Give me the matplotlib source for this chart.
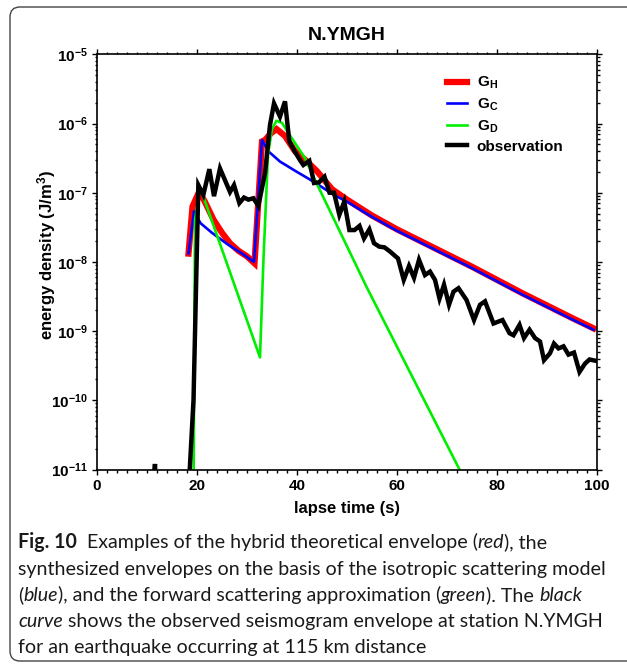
import matplotlib
matplotlib.use('Agg')
import matplotlib.pyplot as plt
import numpy as np
from matplotlib.ticker import FixedLocator, MultipleLocator, NullFormatter
from matplotlib.patches import FancyBboxPatch
from matplotlib.transforms import IdentityTransform
from matplotlib.font_manager import FontProperties

plt.rcParams['font.family'] = ['Liberation Sans', 'DejaVu Sans']
plt.rcParams['mathtext.fontset'] = 'custom'
plt.rcParams['mathtext.rm'] = 'Liberation Sans:bold'
plt.rcParams['mathtext.bf'] = 'Liberation Sans:bold'
plt.rcParams['mathtext.it'] = 'Liberation Sans:bold:italic'

# ---------------- data (log10 of energy density) -------------
title = 'N.YMGH'
xlabel = 'lapse time (s)'
ylabel = r'energy density (J/m$^{3}$)'
legend_labels = [r'$\mathbf{G_H}$', r'$\mathbf{G_C}$', r'$\mathbf{G_D}$', 'observation']
x_ticks = [0, 20, 40, 60, 80, 100]
y_exponents = [-11, -10, -9, -8, -7, -6, -5]

gh_t = [18.3, 19.1, 20.4, 21.5, 23.3, 25.0, 26.6, 28.3, 30.0, 31.5,
        33.0, 33.6, 34.8, 35.9, 37.6, 39.6, 42.0, 44.0, 47.0, 50.0,
        55.0, 60.0, 65.0, 70.0, 75.0, 80.0, 85.0, 90.0, 95.0, 99.3]
gh_log = [-7.88, -7.20, -6.99, -7.12, -7.39, -7.58, -7.73, -7.84, -7.92, -8.02,
          -6.26, -6.24, -6.14, -6.08, -6.18, -6.40, -6.55, -6.69, -6.95, -7.10,
          -7.33, -7.53, -7.71, -7.89, -8.07, -8.26, -8.45, -8.63, -8.81, -8.96]

gc_t = [18.3, 19.4, 20.7, 23.0, 26.0, 29.0, 31.4,
        33.0, 34.4, 36.6, 40.0, 42.6, 45.0, 47.3, 50.0,
        55.0, 60.0, 65.0, 70.0, 75.0, 80.0, 85.0, 90.0, 95.0, 99.3]
gc_log = [-7.88, -7.27, -7.44, -7.58, -7.74, -7.88, -8.00,
          -6.24, -6.41, -6.55, -6.70, -6.81, -6.92, -7.03, -7.13,
          -7.35, -7.55, -7.73, -7.91, -8.09, -8.28, -8.47, -8.65, -8.83, -8.98]

gd_t = [19.3, 19.6, 20.6, 32.6, 33.3, 34.2, 35.0, 35.9, 37.0, 38.3, 41.6, 43.9, 53.9, 72.5, 76.0]
gd_log = [-11.5, -7.40, -6.92, -9.38, -7.95, -6.45, -6.08, -5.96, -5.99, -6.14, -6.50, -6.86, -8.36, -11.0, -11.5]

obs_t = [0.0, 11.0, 11.6, 11.8, 17.5, 18.4, 19.3, 20.27, 21.27, 22.47, 23.4, 24.6, 25.6, 26.6,
         27.4, 28.47, 29.4, 30.27, 31.27, 32.27, 33.6, 34.6, 35.4, 36.6, 37.6, 38.47, 39.6,
         40.6, 41.27, 42.47, 43.4, 44.4, 45.5, 46.5, 47.4, 48.47, 49.45, 50.47, 51.5, 52.5,
         53.4, 54.47, 55.4, 56.47, 57.5, 58.6, 60.2, 61.35, 62.4, 63.4, 64.4, 65.6, 66.6,
         67.6, 68.5, 69.4, 70.4, 71.3, 72.3, 73.9, 75.4, 76.6, 77.6, 79.3, 81.1, 82.5, 83.3,
         84.5, 85.4, 86.5, 87.6, 88.6, 89.4, 90.6, 91.4, 92.3, 93.3, 94.3, 95.4, 96.5, 97.6,
         98.5, 99.8]
obs_log = [-12.0, -11.4, -10.92, -11.4, -12.0, -11.2, -10.0, -6.89, -7.03, -6.66, -7.05, -6.65, -6.82, -6.99,
           -6.89, -7.15, -7.07, -7.10, -7.08, -7.19, -6.72, -6.02, -5.71, -5.90, -5.68, -6.26, -6.41,
           -6.53, -6.60, -6.54, -6.86, -6.85, -6.77, -7.00, -7.00, -7.32, -7.13, -7.54, -7.54, -7.48,
           -7.66, -7.53, -7.73, -7.78, -7.79, -7.85, -7.95, -8.26, -8.06, -8.23, -7.97, -8.19, -8.14,
           -8.26, -8.53, -8.33, -8.62, -8.43, -8.38, -8.55, -8.84, -8.62, -8.57, -8.89, -8.84, -9.03, -9.06,
           -8.91, -9.10, -8.98, -9.10, -9.15, -9.42, -9.32, -9.18, -9.25, -9.22, -9.34, -9.31, -9.59, -9.47,
           -9.41, -9.43]

caption_lines = [
    [('Fig. 10', 'bold', 'normal'), ('  Examples of the hybrid theoretical envelope (', 'normal', 'normal'),
     ('red', 'normal', 'italic'), ('), the', 'normal', 'normal')],
    [('synthesized envelopes on the basis of the isotropic scattering model', 'normal', 'normal')],
    [('(', 'normal', 'normal'), ('blue', 'normal', 'italic'),
     ('), and the forward scattering approximation (', 'normal', 'normal'),
     ('green', 'normal', 'italic'), ('). The ', 'normal', 'normal'), ('black', 'normal', 'italic')],
    [('curve', 'normal', 'italic'), (' shows the observed seismogram envelope at station N.YMGH', 'normal', 'normal')],
    [('for an earthquake occurring at 115 km distance', 'normal', 'normal')],
]

# ---------------- figure ----------------
W, H = 627, 665
fig = plt.figure(figsize=(W / 100, H / 100), dpi=100)
fig.patch.set_facecolor('white')

ax = fig.add_axes([97 / W, 1 - 469.5 / H, 500 / W, 415.2 / H])
ax.set_yscale('log')
ax.set_xlim(0, 100)
ax.set_ylim(1e-11, 1e-5)

def tolin(v):
    return 10.0 ** np.asarray(v)

ax.plot(gh_t, tolin(gh_log), color='#ff0000', lw=4.5, solid_joinstyle='miter', label=legend_labels[0])
ax.plot(gc_t, tolin(gc_log), color='#0000ff', lw=1.9, label=legend_labels[1])
ax.plot(gd_t, tolin(gd_log), color='#00ee00', lw=1.9, label=legend_labels[2])
ax.plot(obs_t, tolin(obs_log), color='black', lw=3.2, solid_joinstyle='miter', label=legend_labels[3])

ax.xaxis.set_major_locator(FixedLocator(x_ticks))
ax.xaxis.set_minor_locator(MultipleLocator(2))
ax.set_xticklabels([str(v) for v in x_ticks])
ax.yaxis.set_major_locator(FixedLocator([10.0 ** e for e in y_exponents]))
ax.set_yticklabels([r'$\mathbf{10^{%d}}$' % e for e in y_exponents])
ax.yaxis.set_minor_locator(matplotlib.ticker.LogLocator(base=10, subs=np.arange(2, 10), numticks=20))
ax.yaxis.set_minor_formatter(NullFormatter())

for sp in ax.spines.values():
    sp.set_linewidth(1.2)
ax.tick_params(which='both', direction='out', top=True, right=True, width=1.0)
ax.tick_params(which='major', length=3.5, labelsize=11, pad=3)
ax.tick_params(which='minor', length=1.8)
for lab in ax.get_xticklabels():
    lab.set_fontweight('bold')

ax.set_xlabel(xlabel, fontsize=12, fontweight='bold')
ax.xaxis.set_label_coords(0.5, -0.093)
ax.xaxis.label.set_va('center')
ax.set_ylabel(ylabel, fontsize=12, fontweight='bold')
ax.yaxis.set_label_coords(-0.1, 0.517)
ax.yaxis.label.set_va('center')

fig.text(347 / W, 1 - 35 / H, title, ha='center', va='center', fontsize=14, fontweight='bold')

leg = ax.legend(loc='upper left', bbox_to_anchor=(0.70, 0.950), frameon=False,
                handlelength=1.3, handletextpad=0.65, labelspacing=0.34, borderpad=0, borderaxespad=0,
                prop={'weight': 'bold', 'size': 11})

# ---------------- caption ----------------
renderer = fig.canvas.get_renderer()

def adv(s, fp):
    w1, _, _ = renderer.get_text_width_height_descent('|' + s + '|', fp, ismath=False)
    w0, _, _ = renderer.get_text_width_height_descent('||', fp, ismath=False)
    return w1 - w0

cap_family = 'Lato'
ref_fp = FontProperties(family=cap_family, size=10)
target = 590.0
size = 10 * target / adv(caption_lines[1][0][0], ref_fp)

baselines = [548, 574.5, 601, 627, 653]
for segs, yb in zip(caption_lines, baselines):
    x = 18.0
    for txt, weight, style in segs:
        fp = FontProperties(family=cap_family, size=size, weight=weight, style=style)
        fig.text(x / W, 1 - yb / H, txt, fontproperties=fp, ha='left', va='baseline', color='#1a1a1a')
        x += adv(txt, fp)

# rounded border
box = FancyBboxPatch((10, 4), 700, 654, boxstyle='round,pad=0,rounding_size=10',
                     transform=IdentityTransform(), fill=False, edgecolor='#444444', lw=1.0)
fig.patches.append(box)

fig.savefig('out.png', dpi=100)
